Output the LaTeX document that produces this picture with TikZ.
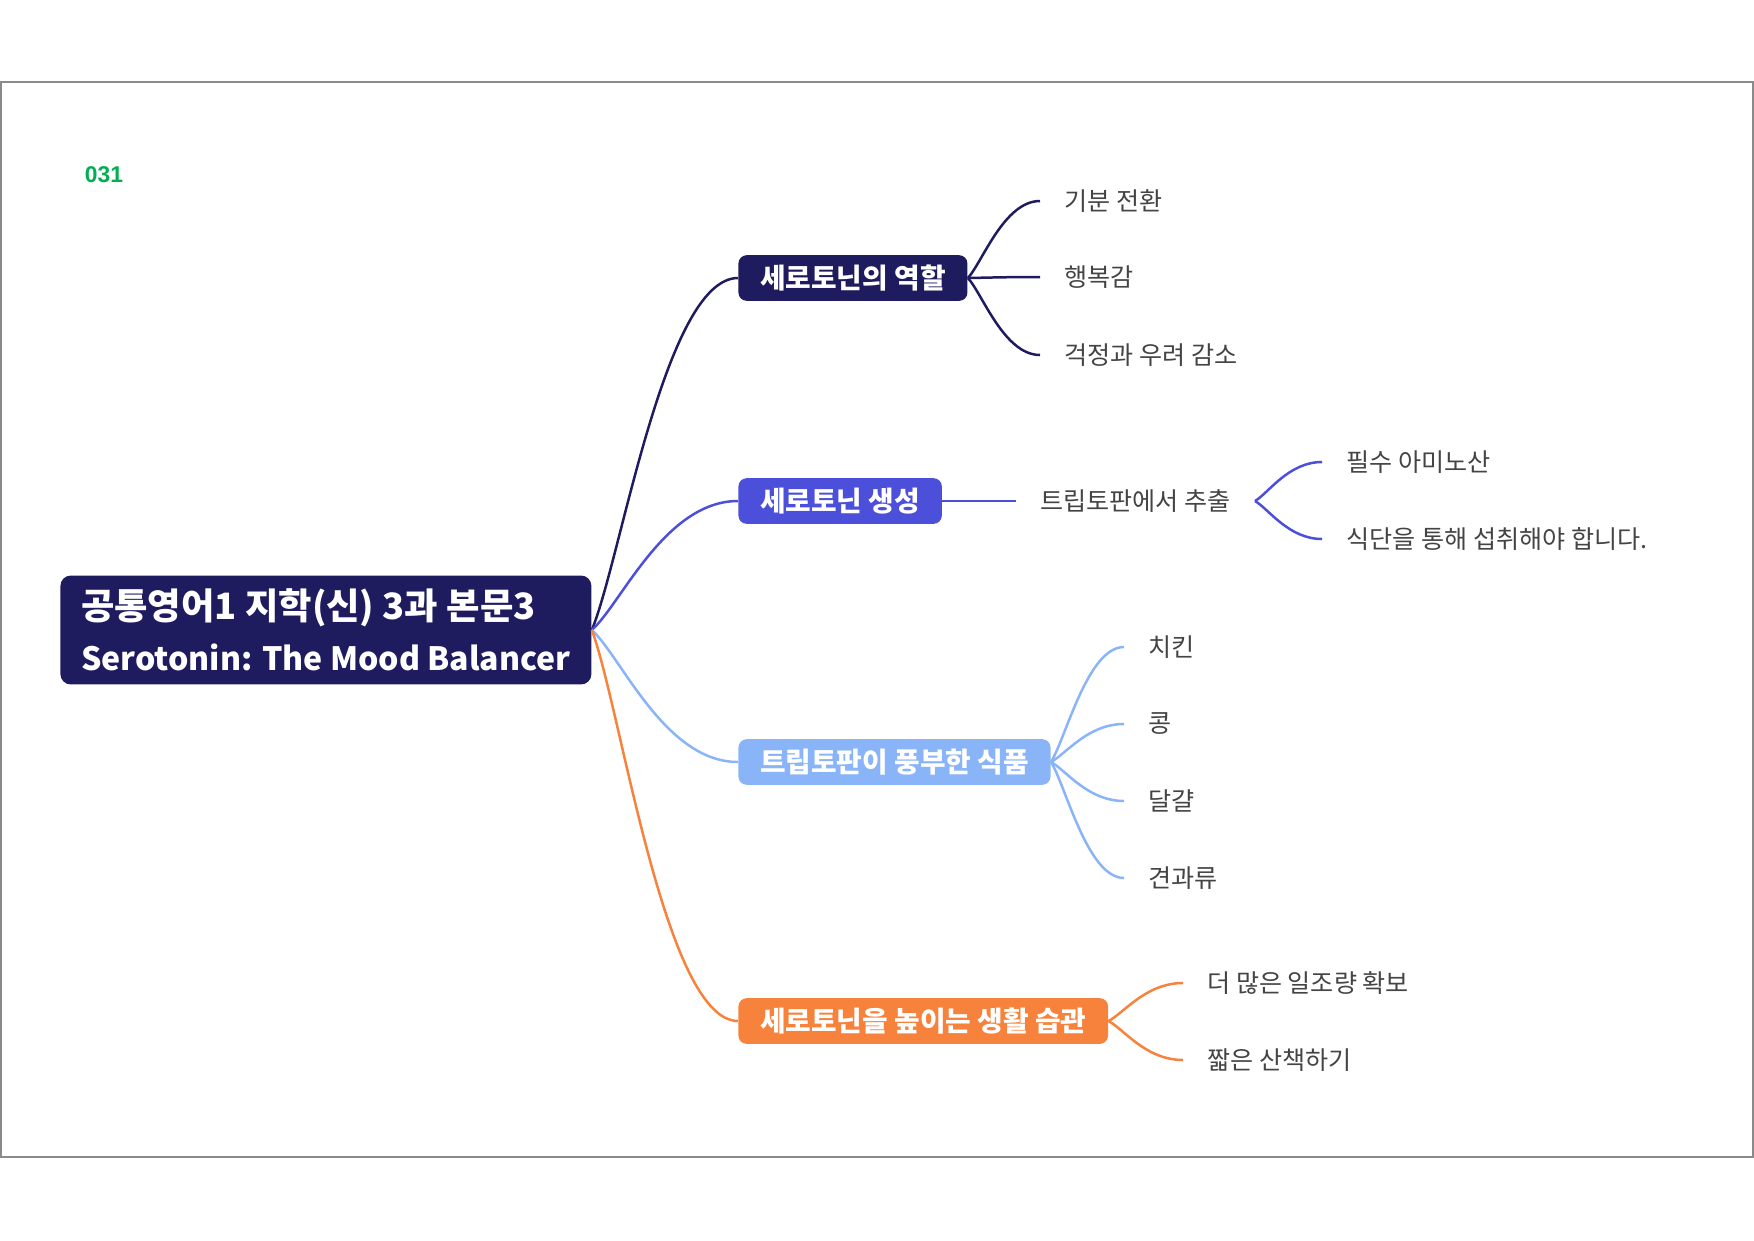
\documentclass[tikz,border=0pt]{standalone}
\usepackage{fontspec}
\setmainfont{Noto Sans CJK KR}
\newfontfamily\numfont{Liberation Sans}
\usetikzlibrary{calc}
\definecolor{rolecol}{HTML}{1E1B5E}
\definecolor{makecol}{HTML}{4B4FD9}
\definecolor{foodcol}{HTML}{8AB4F8}
\definecolor{habitcol}{HTML}{F7823C}
\definecolor{leafgray}{HTML}{444444}
\definecolor{framegray}{HTML}{8A8A8A}
\definecolor{numgreen}{HTML}{00B050}
\begin{document}
\begin{tikzpicture}[x=0.016933cm, y=-0.016933cm,
    topic/.style={rectangle, rounded corners=4pt, fill=#1, text=white, anchor=west,
                  font=\fontsize{13.4}{15}\selectfont\bfseries, inner xsep=10.5pt, minimum height=22pt},
    leaf/.style={anchor=west, inner xsep=11.5pt, inner ysep=0pt, text=leafgray,
                 font=\fontsize{12.1}{14}\selectfont},
    curvy/.style={to path={.. controls ($(\tikztostart)!0.2!(\tikztotarget)$)
                  and ($(\tikztotarget)!0.5!(\tikztostart |- \tikztotarget)$) .. (\tikztotarget)}},
    link/.style={draw=#1, line width=1.2pt, curvy}]

  \useasboundingbox (0,0) rectangle (1754,1240);
  \draw[framegray, line width=0.7pt] (1,82) rectangle (1753,1157);

  \node[font=\numfont\bfseries\fontsize{11}{13}\selectfont, text=numgreen] (num) at (104,175) {031};

  % main topic
  \node[topic=rolecol, rounded corners=5pt, align=left, inner xsep=10pt, minimum height=52.5pt,
        font=\fontsize{17.5}{24.5}\selectfont\bfseries] (root) at (60,630)
        {공통영어1 지학(신) 3과 본문3\\{\fontsize{15.45}{24.5}\selectfont Serotonin: The Mood Balancer}};

  % branches
  \node[topic=rolecol]  (role)  at (738,278)  {세로토닌의 역할};
  \node[topic=makecol]  (make)  at (738,501)  {세로토닌 생성};
  \node[topic=foodcol]  (food)  at (738,762)  {트립토판이 풍부한 식품};
  \node[topic=habitcol] (habit) at (738,1021) {세로토닌을 높이는 생활 습관};

  % leaves
  \node[leaf] (mood)    at (1040,201) {기분 전환};
  \node[leaf] (happy)   at (1040,277) {행복감};
  \node[leaf] (worry)   at (1040,355) {걱정과 우려 감소};

  \node[leaf] (trypt)   at (1016,501) {트립토판에서 추출};
  \node[leaf] (amino)   at (1322,462) {필수 아미노산};
  \node[leaf] (diet)    at (1322,539) {식단을 통해 섭취해야 합니다.};

  \node[leaf] (chicken) at (1124,647) {치킨};
  \node[leaf] (bean)    at (1124,724) {콩};
  \node[leaf] (egg)     at (1124,801) {달걀};
  \node[leaf] (nuts)    at (1124,878) {견과류};

  \node[leaf] (sun)     at (1183,983)  {더 많은 일조량 확보};
  \node[leaf] (walk)    at (1183,1060) {짧은 산책하기};

  \path (root.east)
        edge[link=rolecol]  (role.west)
        edge[link=makecol]  (make.west)
        edge[link=foodcol]  (food.west)
        edge[link=habitcol] (habit.west)
    (role.east)
        edge[link=rolecol] (mood.west)
        edge[link=rolecol] (happy.west)
        edge[link=rolecol] (worry.west)
    (trypt.east)
        edge[link=makecol] (amino.west)
        edge[link=makecol] (diet.west)
    (food.east)
        edge[link=foodcol] (chicken.west)
        edge[link=foodcol] (bean.west)
        edge[link=foodcol] (egg.west)
        edge[link=foodcol] (nuts.west)
    (habit.east)
        edge[link=habitcol] (sun.west)
        edge[link=habitcol] (walk.west);
  \draw[makecol, line width=1.2pt] (make.east) -- (trypt.west);

\end{tikzpicture}
\end{document}
